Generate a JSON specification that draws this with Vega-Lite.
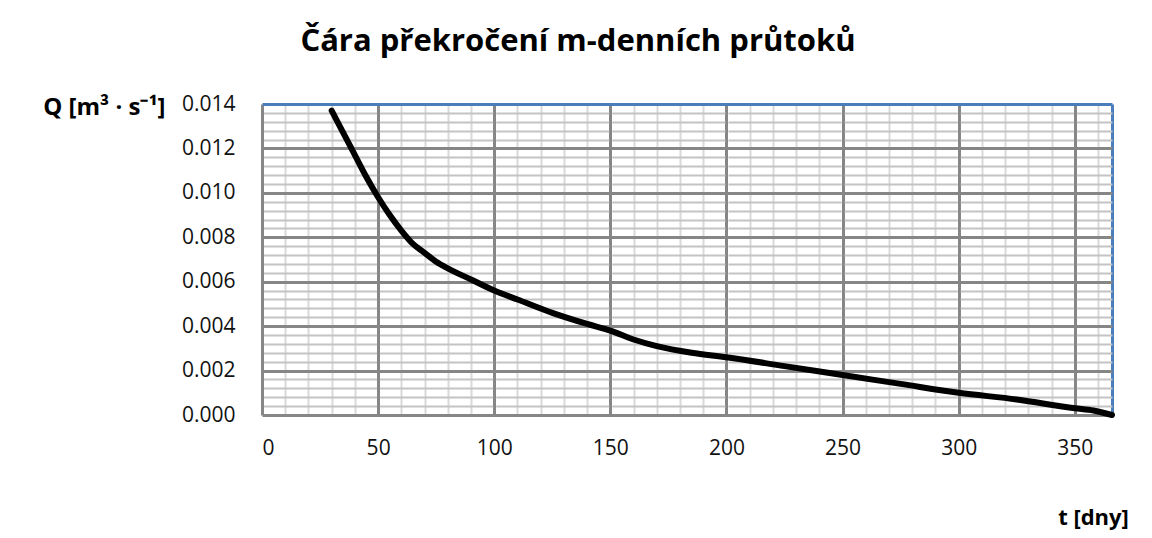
{
  "$schema": "https://vega.github.io/schema/vega-lite/v6.json",
  "width": 850,
  "height": 311,
  "autosize": "none",
  "padding": {"left": 262, "top": 104, "right": 40, "bottom": 123},
  "background": "white",
  "config": {
    "view": {"stroke": null},
    "font": "Open Sans",
    "axis": {"labelFont": "Open Sans", "titleFont": "Open Sans"}
  },
  "title": {
    "text": "Čára překročení m-denních průtoků",
    "font": "Open Sans",
    "fontSize": 31,
    "fontWeight": "bold",
    "color": "black",
    "anchor": "middle",
    "dx": -109,
    "offset": 35
  },
  "data": {
    "values": [
      {"t": 30, "Q": 0.0137},
      {"t": 35, "Q": 0.0127},
      {"t": 40, "Q": 0.0117},
      {"t": 45, "Q": 0.0107},
      {"t": 50, "Q": 0.0098},
      {"t": 55, "Q": 0.0090},
      {"t": 60, "Q": 0.0083},
      {"t": 65, "Q": 0.0077},
      {"t": 70, "Q": 0.0073},
      {"t": 75, "Q": 0.0069},
      {"t": 80, "Q": 0.0066},
      {"t": 90, "Q": 0.0061},
      {"t": 100, "Q": 0.0056},
      {"t": 110, "Q": 0.0052},
      {"t": 125, "Q": 0.0046},
      {"t": 140, "Q": 0.0041},
      {"t": 150, "Q": 0.0038},
      {"t": 160, "Q": 0.0034},
      {"t": 170, "Q": 0.0031},
      {"t": 185, "Q": 0.0028},
      {"t": 200, "Q": 0.0026},
      {"t": 225, "Q": 0.0022},
      {"t": 250, "Q": 0.0018},
      {"t": 275, "Q": 0.0014},
      {"t": 300, "Q": 0.0010},
      {"t": 325, "Q": 0.0007},
      {"t": 350, "Q": 0.0003},
      {"t": 358, "Q": 0.0002},
      {"t": 366, "Q": 0.0}
    ]
  },
  "resolve": {"axis": {"x": "independent", "y": "independent"}},
  "layer": [
    {
      "mark": {"type": "line", "opacity": 0},
      "encoding": {
        "x": {
          "field": "t", "type": "quantitative",
          "scale": {"domain": [0, 366], "nice": false, "zero": false},
          "axis": {
            "orient": "bottom",
            "values": [10,20,30,40,60,70,80,90,110,120,130,140,160,170,180,190,210,220,230,240,260,270,280,290,310,320,330,340,360],
            "labels": false, "ticks": false, "domain": false, "title": null,
            "grid": true, "gridColor": "#d9d9d9", "gridWidth": 2
          }
        },
        "y": {
          "field": "Q", "type": "quantitative",
          "scale": {"domain": [0, 0.014], "nice": false},
          "axis": {
            "orient": "left",
            "values": [0.0004,0.0008,0.0012,0.0016,0.0024,0.0028,0.0032,0.0036,0.0044,0.0048,0.0052,0.0056,0.0064,0.0068,0.0072,0.0076,0.0084,0.0088,0.0092,0.0096,0.0104,0.0108,0.0112,0.0116,0.0124,0.0128,0.0132,0.0136],
            "labels": false, "ticks": false, "domain": false, "title": null,
            "grid": true, "gridColor": "#c4c4c4", "gridWidth": 2,
            "gridDash": [113.12, 3], "gridDashOffset": 114.62
          }
        }
      }
    },
    {
      "mark": {"type": "line", "color": "black", "strokeWidth": 6, "interpolate": "monotone", "strokeCap": "round"},
      "encoding": {
        "x": {
          "field": "t", "type": "quantitative",
          "scale": {"domain": [0, 366], "nice": false, "zero": false},
          "axis": {
            "orient": "bottom",
            "values": [0,50,100,150,200,250,300,350,366],
            "labelExpr": "datum.value > 360 ? '' : datum.label",
            "ticks": false, "domain": false,
            "labelFontSize": 21, "labelColor": "#111", "labelPadding": 22,
            "grid": true,
            "gridColor": {"condition": {"test": "datum.value > 360", "value": "#4a7ebb"}, "value": "#868686"},
            "gridWidth": 3,
            "title": "t [dny]",
            "titleFontSize": 22, "titleFontWeight": "bold", "titleColor": "black",
            "titleX": 831, "titleY": 102, "titleAlign": "center", "titleBaseline": "middle"
          }
        },
        "y": {
          "field": "Q", "type": "quantitative",
          "scale": {"domain": [0, 0.014], "nice": false},
          "axis": {
            "orient": "left",
            "values": [0,0.002,0.004,0.006,0.008,0.010,0.012,0.014],
            "format": ".3f",
            "ticks": false, "domain": false,
            "labelFontSize": 21, "labelColor": "#111", "labelPadding": 27,
            "grid": true,
            "gridColor": {"condition": {"test": "datum.value > 0.0139", "value": "#4a7ebb"}, "value": "#868686"},
            "gridWidth": 3,
            "title": "Q [m³ · s⁻¹]",
            "titleFontSize": 24, "titleFontWeight": "bold", "titleColor": "black",
            "titleAngle": 0, "titleX": -97, "titleY": 3, "titleAlign": "right", "titleBaseline": "middle"
          }
        }
      }
    }
  ]
}
